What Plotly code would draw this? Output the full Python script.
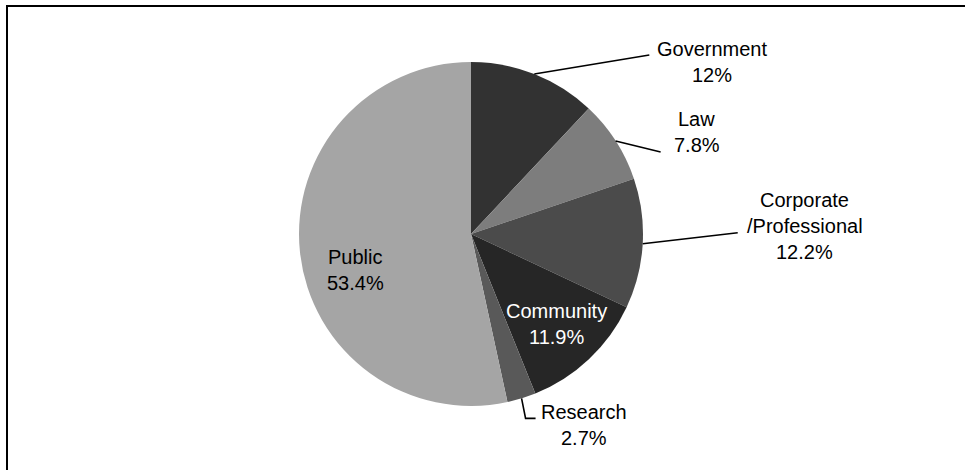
import math
import plotly.graph_objects as go

# ---- data ----
categories = ["Government", "Law", "Corporate/Professional", "Community", "Research", "Public"]
values = [12.0, 7.8, 12.2, 11.9, 2.7, 53.4]
label_lines = [
    ["Government", "12%"],
    ["Law", "7.8%"],
    ["Corporate", "/Professional", "12.2%"],
    ["Community", "11.9%"],
    ["Research", "2.7%"],
    ["Public", "53.4%"],
]

# ---- style ----
W, H = 965, 470
CX, CY, R = 471, 234, 172
colors = ["#323232", "#7d7d7d", "#4b4b4b", "#262626", "#595959", "#a5a5a5"]
FONT = "Liberation Sans Narrow, Arial Narrow, Liberation Sans, Arial, sans-serif"
FS = 20
LINE_GAP = 26
label_style = [
    {"leader": [(115, -19)], "text": (63, 7), "color": "black"},
    {"leader": [(45, 11)], "text": (36, -20), "color": "black"},
    {"leader": [(95, -11)], "text": (67, -7), "color": "black"},
    {"leader": None, "rfrac": 0.72, "text": (0, 0), "color": "white"},
    {"leader": [(4, 20), (14, 20)], "text": (48, 7), "color": "black"},
    {"leader": None, "rfrac": 0.70, "text": (4, 23), "color": "black"},
]


def px(x):
    return x / W


def py(y):
    return 1 - y / H


fig = go.Figure(go.Pie(
    labels=categories,
    values=values,
    sort=False,
    direction="clockwise",
    rotation=0,
    marker=dict(colors=colors, line=dict(width=0)),
    textinfo="none",
    hoverinfo="label+percent",
    showlegend=False,
    domain=dict(x=[px(CX - R), px(CX + R)], y=[py(CY + R), py(CY - R)]),
))

annotations = []
shapes = []
total = sum(values)
cum = 0.0
for val, lines, st in zip(values, label_lines, label_style):
    mid = (cum + val / 2) / total * 2 * math.pi
    cum += val
    ux, uy = math.sin(mid), -math.cos(mid)
    if st["leader"] is not None:
        sx, sy = CX + R * ux, CY + R * uy
        pts = [(sx, sy)] + [(sx + dx, sy + dy) for dx, dy in st["leader"]]
        path = "M " + " L ".join(f"{px(x):.5f},{py(y):.5f}" for x, y in pts)
        shapes.append(dict(type="path", path=path, xref="paper", yref="paper",
                           line=dict(color="black", width=1.6)))
        ax, ay = pts[-1]
    else:
        ax, ay = CX + st["rfrac"] * R * ux, CY + st["rfrac"] * R * uy
    tx, ty = ax + st["text"][0], ay + st["text"][1]
    n = len(lines)
    for i, line in enumerate(lines):
        yy = ty + (i - (n - 1) / 2) * LINE_GAP
        annotations.append(dict(
            x=px(tx), y=py(yy), xref="paper", yref="paper", text=line,
            showarrow=False, xanchor="center", yanchor="middle",
            font=dict(family=FONT, size=FS, color=st["color"]),
        ))

# frame (left and top edges visible)
shapes.append(dict(type="path", path=f"M {px(7)},{py(H + 5)} L {px(7)},{py(6)} L {px(W + 5)},{py(6)}",
                   xref="paper", yref="paper", line=dict(color="black", width=2)))

fig.update_layout(
    width=W, height=H,
    margin=dict(l=0, r=0, t=0, b=0),
    paper_bgcolor="white", plot_bgcolor="white",
    annotations=annotations, shapes=shapes,
)

fig.write_html(
    "out.html",
    config={"displayModeBar": False},
    post_script="document.body.style.margin='0px';document.body.style.overflow='hidden';",
)
